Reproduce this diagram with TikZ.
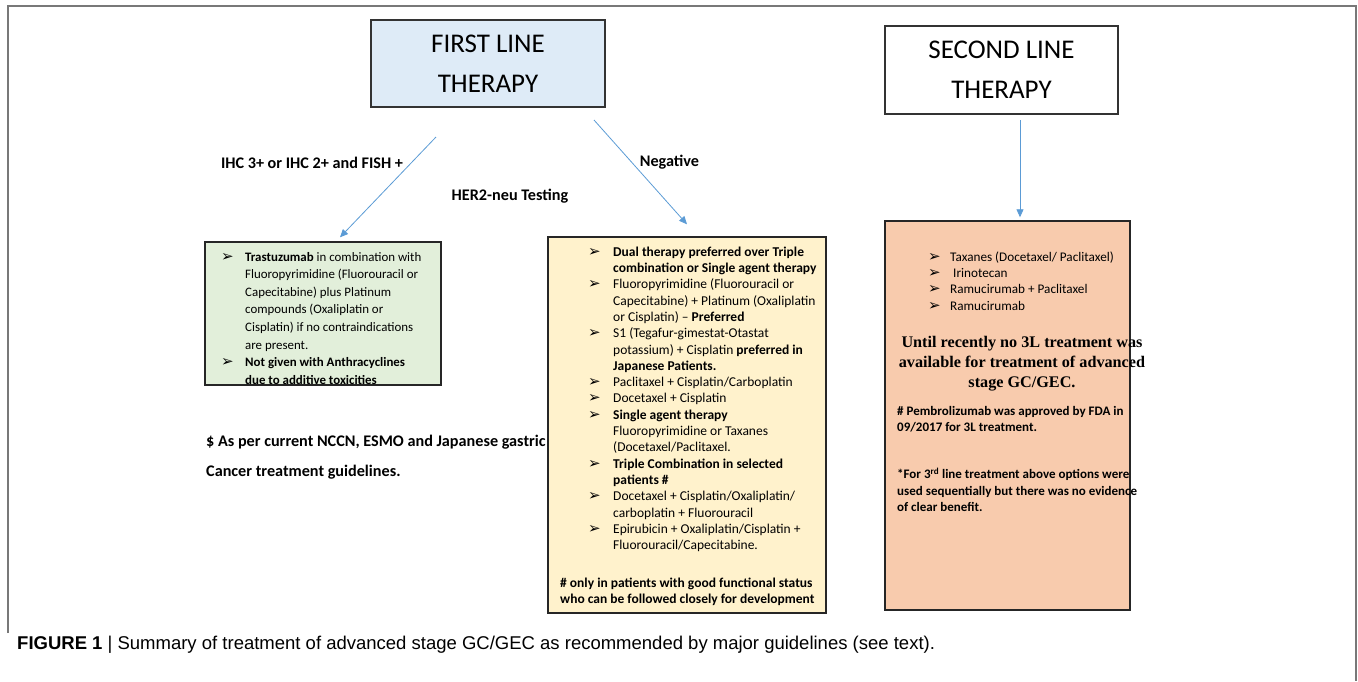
\documentclass[tikz,border=0pt]{standalone}
\usepackage{fontspec}
\setmainfont{Carlito}
\newfontfamily\timesfont{Liberation Serif}
\newfontfamily\capfont{Liberation Sans}
\newfontfamily\symfont{DejaVu Sans}
\usetikzlibrary{positioning,arrows.meta}

\definecolor{firstblue}{RGB}{222,235,247}
\definecolor{posgreen}{RGB}{226,239,218}
\definecolor{negyellow}{RGB}{255,242,204}
\definecolor{latersalmon}{RGB}{248,203,173}
\definecolor{arrowblue}{RGB}{91,155,213}
\definecolor{framegray}{RGB}{120,120,120}

\newcommand{\bul}{{\symfont\fontsize{15}{12}\selectfont ➢}}

\begin{document}
\begin{tikzpicture}[x=1pt, y=-1pt,
    headbox/.style={draw=black!80, line width=1.2pt, align=center, inner sep=0,
        font=\fontsize{27}{40}\selectfont},
    listbox/.style={draw=black!85, line width=1.4pt, inner sep=0},
    listtext/.style={anchor=base west, inner sep=0},
    flow/.style={draw=arrowblue, line width=0.8pt, -{Triangle[width=7pt,length=8pt]}},
    lbl/.style={inner sep=0, font=\fontsize{16.2}{16}\selectfont\bfseries}]

    \useasboundingbox (0,0) rectangle (1358,681);

    % frame and caption
    \draw[framegray, line width=2pt] (8,633) -- (8,6) -- (1356,6) -- (1356,681);
    \node[anchor=west, inner sep=0, font=\capfont\fontsize{18.5}{18}\selectfont] (caption) at (17,645)
        {\textbf{FIGURE 1} | Summary of treatment of advanced stage GC/GEC as recommended by major guidelines (see text).};

    % headers
    \node[headbox, fill=firstblue, minimum width=234, minimum height=87] (first) at (488,63.5) {FIRST LINE\\THERAPY};
    \node[headbox, fill=white, minimum width=233, minimum height=88] (second) at (1001.5,70) {SECOND LINE\\THERAPY};

    % notes on the left
    \node[lbl, anchor=west] (dollar) at (206,442) {\$ As per current NCCN, ESMO and Japanese gastric};
    \node[lbl, anchor=west] (dollar2) at (206,472) {Cancer treatment guidelines.};

    % HER2 positive
    \node[listbox, fill=posgreen, minimum width=236, minimum height=143] (pos) at (323,313.5) {};
    \begin{scope}
        \clip ([yshift=1pt]pos.south west) rectangle (pos.north east);
        \node[listtext, font=\fontsize{12.9}{17.6}\selectfont] (postext) at (221,261) {%
            \begin{tabular}[t]{@{}p{24pt}@{}l@{}}
            \bul & \textbf{Trastuzumab} in combination with\\
                 & Fluoropyrimidine (Fluorouracil or\\
                 & Capecitabine) plus Platinum\\
                 & compounds (Oxaliplatin or\\
                 & Cisplatin) if no contraindications\\
                 & are present.\\
            \bul & \textbf{Not given with Anthracyclines}\\
                 & \textbf{due to additive toxicities}\\
            \end{tabular}};
    \end{scope}

    % HER2 negative
    \node[listbox, fill=negyellow, minimum width=278, minimum height=376] (neg) at (687,425) {};
    \node[listtext, font=\fontsize{13.5}{16.3}\selectfont] (negtext) at (588,256.2) {%
        \begin{tabular}[t]{@{}p{25pt}@{}l@{}}
        \bul & \textbf{Dual therapy preferred over Triple}\\
             & \textbf{combination or Single agent therapy}\\
        \bul & Fluoropyrimidine (Fluorouracil or\\
             & Capecitabine) + Platinum (Oxaliplatin\\
             & or Cisplatin) -- \textbf{Preferred}\\
        \bul & S1 (Tegafur-gimestat-Otastat\\
             & potassium) + Cisplatin \textbf{preferred in}\\
             & \textbf{Japanese Patients.}\\
        \bul & Paclitaxel + Cisplatin/Carboplatin\\
        \bul & Docetaxel + Cisplatin\\
        \bul & \textbf{Single agent therapy}\\
             & Fluoropyrimidine or Taxanes\\
             & (Docetaxel/Paclitaxel.\\
        \bul & \textbf{Triple Combination in selected}\\
             & \textbf{patients \#}\\
        \bul & Docetaxel + Cisplatin/Oxaliplatin/\\
             & carboplatin + Fluorouracil\\
        \bul & Epirubicin + Oxaliplatin/Cisplatin +\\
             & Fluorouracil/Capecitabine.\\
        \end{tabular}};
    \node[listtext, align=left, font=\fontsize{13.5}{16.3}\selectfont\bfseries] (negnote) at (560,603.5)
        {\# only in patients with good functional status\\who can be followed closely for development};

    % second line
    \node[listbox, fill=latersalmon, minimum width=245, minimum height=389] (later) at (1007.5,415.5) {};
    \node[listtext, font=\fontsize{13.2}{16.3}\selectfont] (latertext) at (928,261.1) {%
        \begin{tabular}[t]{@{}p{22pt}@{}l@{}}
        \bul & Taxanes (Docetaxel/ Paclitaxel)\\
        \bul & \ Irinotecan\\
        \bul & Ramucirumab + Paclitaxel\\
        \bul & Ramucirumab\\
        \end{tabular}};
    \node[align=center, inner sep=0, font=\timesfont\bfseries\fontsize{16.2}{20}\selectfont] (until) at (1022,364)
        {Until recently no 3L treatment was\\available for treatment of advanced\\stage GC/GEC.};
    \node[listtext, align=left, font=\fontsize{13}{16.3}\selectfont\bfseries] (pembro) at (897,431.5)
        {\# Pembrolizumab was approved by FDA in\\09/2017 for 3L treatment.};
    \node[listtext, align=left, font=\fontsize{13}{16.3}\selectfont\bfseries] (third) at (897,511.5)
        {*For 3\textsuperscript{rd} line treatment above options were\\used sequentially but there was no evidence\\of clear benefit.};

    % test labels
    \node[lbl] (ihc) at (312,163) {IHC 3+ or IHC 2+ and FISH +};
    \node[lbl] (her2) at (510,196) {HER2-neu Testing};
    \node[lbl] (negative) at (669.5,162) {Negative};

    % arrows
    \coordinate (fork1) at (436,137);
    \coordinate (fork2) at (594,120);
    \coordinate (down) at (1020,120);
    \draw[flow] (fork1) -- ([xshift=17pt,yshift=4pt]pos.north);
    \draw[flow] (fork2) -- ([yshift=12pt]neg.north);
    \draw[flow] (down) -- ([xshift=12.5pt,yshift=3pt]later.north);

\end{tikzpicture}
\end{document}
